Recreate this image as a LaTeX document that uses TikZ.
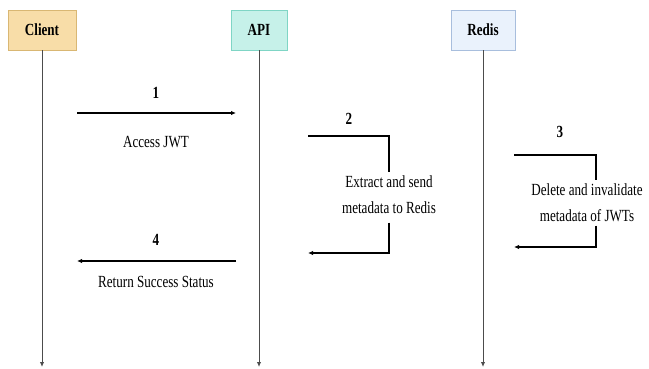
\documentclass[tikz,border=0pt]{standalone}
\usepackage{fontspec}
\setmainfont[FakeStretch=0.77]{Liberation Serif}
\usetikzlibrary{arrows.meta}
\definecolor{clientfill}{HTML}{F8DDA8}
\definecolor{clientdraw}{HTML}{D9B773}
\definecolor{apifill}{HTML}{C6F1E9}
\definecolor{apidraw}{HTML}{7FD5C5}
\definecolor{redisfill}{HTML}{EAF2FC}
\definecolor{redisdraw}{HTML}{A8BEDD}
\begin{document}
\begin{tikzpicture}[x=1pt, y=-1pt,
    actor/.style={draw, line width=0.9pt, minimum height=40pt, inner sep=0pt, font=\fontsize{17}{20}\selectfont\bfseries},
    lifeline/.style={draw=black!70, line width=1pt, -{Latex[length=5pt,width=4.5pt]}},
    msg/.style={line width=1.1pt, -{Latex[length=5pt,width=4.5pt]}},
    num/.style={font=\fontsize{17}{20}\selectfont\bfseries},
    lbl/.style={font=\fontsize{17}{26}\selectfont, align=center}
]
\useasboundingbox (0,0) rectangle (649,369);
% --- Teilnehmer ---
\node[actor, fill=clientfill, draw=clientdraw, minimum width=68pt] (client) at (42,30) {Client};
\node[actor, fill=apifill, draw=apidraw, minimum width=56pt] (api) at (259,30) {API};
\node[actor, fill=redisfill, draw=redisdraw, minimum width=64pt] (redis) at (483,30) {Redis};
% --- Lebenslinien ---
\coordinate (clientend) at (42,367);
\coordinate (apiend) at (259,367);
\coordinate (redisend) at (483,367);
\draw[lifeline] (client) -- (clientend);
\draw[lifeline] (api) -- (apiend);
\draw[lifeline] (redis) -- (redisend);
% --- 1: Client -> API ---
\coordinate (m1a) at (77,113);
\coordinate (m1b) at (236,113);
\draw[msg] (m1a) -- (m1b);
\node[num] (n1) at (156,93) {1};
\node[lbl] (t1) at (156,142) {Access JWT};
% --- 2: API -> Redis ---
\node[lbl] (t2) at (389,195) {Extract and send\\metadata to Redis};
\coordinate (m2a) at (308,136);
\coordinate (m2b) at (308,253);
\draw[line width=1.1pt] (m2a) -| (t2.north);
\draw[msg, shorten <=5pt] (t2.south) |- (m2b);
\node[num] (n2) at (349,119) {2};
% --- 3: Redis intern ---
\node[lbl] (t3) at (587,203) {Delete and invalidate\\metadata of JWTs};
\coordinate (m3a) at (514,155);
\coordinate (m3b) at (514,247);
\draw[line width=1.1pt] (m3a) -| ([xshift=9pt]t3.north);
\draw[msg] ([xshift=9pt]t3.south) |- (m3b);
\node[num] (n3) at (560,132) {3};
% --- 4: API -> Client ---
\coordinate (m4a) at (236,261);
\coordinate (m4b) at (77,261);
\draw[msg] (m4a) -- (m4b);
\node[num] (n4) at (156,240) {4};
\node[lbl] (t4) at (156,282) {Return Success Status};
\end{tikzpicture}
\end{document}
